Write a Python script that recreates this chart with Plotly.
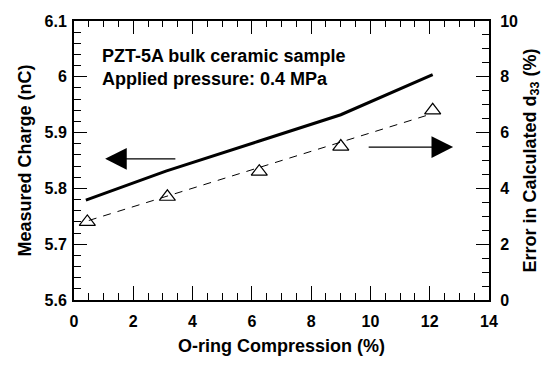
import plotly.graph_objects as go

# Data
compression = [0.4, 3.1, 6.2, 9.0, 12.1]
measured_charge = [5.779, 5.831, 5.884, 5.932, 6.004]
error_x = [0.45, 3.15, 6.25, 9.0, 12.1]
error_d33 = [2.8, 3.7, 4.6, 5.5, 6.8]
fit_x = [0.5, 12.0]
fit_y = [2.85, 6.65]

x_major = [0, 2, 4, 6, 8, 10, 12, 14]
y_major = [5.6, 5.7, 5.8, 5.9, 6.0, 6.1]
y2_major = [0, 2, 4, 6, 8, 10]

FONT = "Liberation Sans"
fig = go.Figure()

fig.add_trace(go.Scatter(x=compression, y=measured_charge, mode="lines",
                         line=dict(color="black", width=3), xaxis="x", yaxis="y", showlegend=False))
fig.add_trace(go.Scatter(x=fit_x, y=fit_y, mode="lines",
                         line=dict(color="black", width=1, dash="8px,7px"),
                         xaxis="x", yaxis="y2", showlegend=False))
fig.add_trace(go.Scatter(x=error_x, y=error_d33, mode="markers",
                         marker=dict(symbol="triangle-up-open", size=14,
                                     color="black", line=dict(width=1.2, color="black")),
                         xaxis="x", yaxis="y2", showlegend=False))
# invisible trace that activates the top (mirror) axis
fig.add_trace(go.Scatter(x=[None], y=[None], xaxis="x2", yaxis="y",
                         showlegend=False, hoverinfo="skip"))

tickfont = dict(family=FONT, size=16, color="black", weight="bold")
titlefont = dict(family=FONT, size=18, color="black", weight="bold")
tk = dict(ticks="inside", tickwidth=1.2, tickcolor="black")

fig.update_layout(
    width=543, height=366,
    margin=dict(l=74, r=54, t=21, b=66),
    plot_bgcolor="white", paper_bgcolor="white",
    xaxis=dict(range=[0, 14], tickvals=x_major, showgrid=False, zeroline=False,
               showline=True, linecolor="black", linewidth=2,
               ticklen=14, **tk,
               minor=dict(dtick=0.5, tick0=0, ticklen=7, **tk),
               tickfont=tickfont, ticklabelstandoff=6, automargin=False,
               title=dict(text="O-ring Compression (%)", font=titlefont, standoff=10)),
    xaxis2=dict(range=[0, 14], overlaying="x", side="top", tickvals=x_major,
                showgrid=False, zeroline=False,
                showline=True, linecolor="black", linewidth=2,
                ticklen=13, **tk,
                minor=dict(dtick=0.5, tick0=0, ticklen=6, **tk),
                showticklabels=False, automargin=False),
    yaxis=dict(range=[5.6, 6.1], tickvals=y_major, ticktext=[f"{v:g}" for v in y_major],
               showgrid=False, zeroline=False,
               showline=True, linecolor="black", linewidth=2,
               ticklen=13, **tk,
               minor=dict(dtick=0.02, tick0=5.6, ticklen=7, **tk),
               tickfont=tickfont, ticklabelstandoff=2, automargin=False,
               title=dict(text="Measured Charge (nC)", font=titlefont, standoff=8)),
    yaxis2=dict(range=[0, 10], tickvals=y2_major, overlaying="y", side="right",
                showgrid=False, zeroline=False,
                showline=True, linecolor="black", linewidth=2,
                ticklen=13, **tk,
                minor=dict(dtick=0.5, tick0=0, ticklen=7, **tk),
                tickfont=tickfont, ticklabelstandoff=6, automargin=False,
                title=dict(text="Error in Calculated d<sub>33</sub> (%)", font=titlefont, standoff=6)),
)

fig.add_annotation(x=0.0627, y=0.918, xref="paper", yref="paper",
                   xanchor="left", yanchor="top", align="left", showarrow=False,
                   text="PZT-5A bulk ceramic sample<br>Applied pressure: 0.4 MPa",
                   font=dict(family=FONT, size=18, color="black", weight="bold"))

# arrows pointing to the axis each curve belongs to
fig.add_annotation(x=1.05, y=5.853, ax=3.47, ay=5.853, xref="x", yref="y", axref="x", ayref="y",
                   text="", showarrow=True, arrowhead=2, arrowsize=3.6, arrowwidth=1.2, arrowcolor="black")
fig.add_annotation(x=12.79, y=5.874, ax=9.89, ay=5.874, xref="x", yref="y", axref="x", ayref="y",
                   text="", showarrow=True, arrowhead=2, arrowsize=3.6, arrowwidth=1.2, arrowcolor="black")

fig.write_html("out.html")
